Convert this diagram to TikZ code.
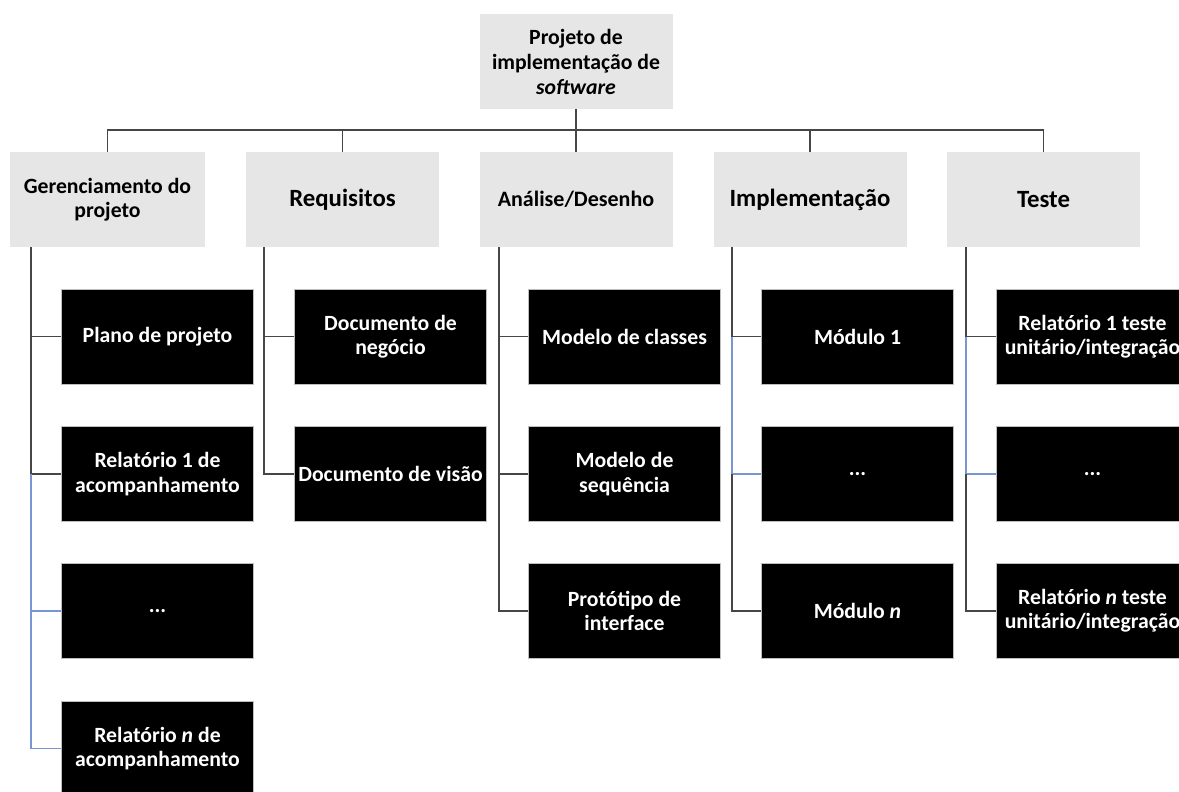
\documentclass[tikz,border=0pt]{standalone}
\usepackage{fontspec}
\setmainfont{Carlito}
\definecolor{boxgray}{RGB}{230,230,230}
\definecolor{linegray}{RGB}{70,70,70}
\definecolor{lineblue}{RGB}{120,150,210}
\definecolor{leafedge}{RGB}{190,190,190}
\begin{document}
\begin{tikzpicture}[x=0.75pt,y=-0.75pt,
  lvl/.style={fill=boxgray, minimum width=144.75pt, minimum height=71.25pt,
    inner sep=0pt, align=center, font=\fontsize{16.5}{18.5}\selectfont\bfseries},
  big/.style={font=\fontsize{18.6}{22}\selectfont\bfseries},
  small/.style={font=\fontsize{16.3}{18}\selectfont\bfseries},
  leaf/.style={fill=black, draw=leafedge, line width=0.4pt, text=white,
    minimum width=144pt, minimum height=71.25pt, inner sep=0pt, align=center,
    font=\fontsize{16.3}{18.3}\selectfont\bfseries},
  ln/.style={draw=linegray, line width=1pt},
  bl/.style={draw=lineblue, line width=1pt}]
\useasboundingbox (0,0) rectangle (1179,792);
\clip (0,0) rectangle (1179,792);

% root and first level
\node[lvl, font=\fontsize{16.3}{18.75}\selectfont\bfseries] (root) at (576,61.5)
  {Projeto de\\implementação de\\\textit{software}};
\node[lvl, small, minimum width=146.25pt] (G) at (107.5,199.5) {Gerenciamento do\\projeto};
\node[lvl, big] (R) at (342.5,199.5) {Requisitos};
\node[lvl] (A) at (576,199.5) {Análise/Desenho};
\node[lvl, big] (I) at (810,199.5) {Implementação};
\node[lvl, big] (T) at (1043.5,199.5) {Teste};

% bus between root and first level
\coordinate (bus) at (576,130);
\draw[ln] (root.south) -- (bus);
\draw[ln] (G.north) |- (bus) -| (T.north);
\draw[ln] (R.north) -- (R.north |- bus);
\draw[ln] (A.north) -- (A.north |- bus);
\draw[ln] (I.north) -- (I.north |- bus);

% trunk positions
\coordinate (t1) at (31,0);
\coordinate (t2) at (264,0);
\coordinate (t3) at (499,0);
\coordinate (t4) at (732,0);
\coordinate (t5) at (966,0);

% project management
\node[leaf] (g1) at (157.5,336.5) {Plano de projeto};
\node[leaf] (g2) at (157.5,474) {Relatório 1 de\\acompanhamento};
\node[leaf] (g3) at (157.5,611) {\raisebox{-2pt}{...}};
\node[leaf] (g4) at (157.5,748.5) {Relatório \textit{n} de\\acompanhamento};
\draw[ln] (G.south -| t1) |- (g1.west);
\draw[ln] (t1 |- g1.west) |- (g2.west);
\draw[bl] (t1 |- g2.west) |- (g3.west);
\draw[bl] (t1 |- g3.west) |- (g4.west);

% requirements
\node[leaf] (r1) at (390.5,336.5) {Documento de\\negócio};
\node[leaf] (r2) at (390.5,474) {Documento de visão};
\draw[ln] (R.south -| t2) |- (r1.west);
\draw[ln] (t2 |- r1.west) |- (r2.west);

% analysis / design
\node[leaf] (a1) at (624.5,336.5) {Modelo de classes};
\node[leaf] (a2) at (624.5,474) {Modelo de\\sequência};
\node[leaf] (a3) at (624.5,611) {Protótipo de\\interface};
\draw[ln] (A.south -| t3) |- (a1.west);
\draw[ln] (t3 |- a1.west) |- (a2.west);
\draw[ln] (t3 |- a2.west) |- (a3.west);

% implementation
\node[leaf] (i1) at (857.5,336.5) {Módulo 1};
\node[leaf] (i2) at (857.5,474) {\raisebox{-2pt}{...}};
\node[leaf] (i3) at (857.5,611) {Módulo \textit{n}};
\draw[ln] (I.south -| t4) |- (i1.west);
\draw[bl] (t4 |- i1.west) |- (i2.west);
\draw[ln] (t4 |- i2.west) |- (i3.west);

% test
\node[leaf] (s1) at (1092.5,336.5) {Relatório 1 teste\\unitário/integração};
\node[leaf] (s2) at (1092.5,474) {\raisebox{-2pt}{...}};
\node[leaf] (s3) at (1092.5,611) {Relatório \textit{n} teste\\unitário/integração};
\draw[ln] (T.south -| t5) |- (s1.west);
\draw[bl] (t5 |- s1.west) |- (s2.west);
\draw[ln] (t5 |- s2.west) |- (s3.west);
\end{tikzpicture}
\end{document}
